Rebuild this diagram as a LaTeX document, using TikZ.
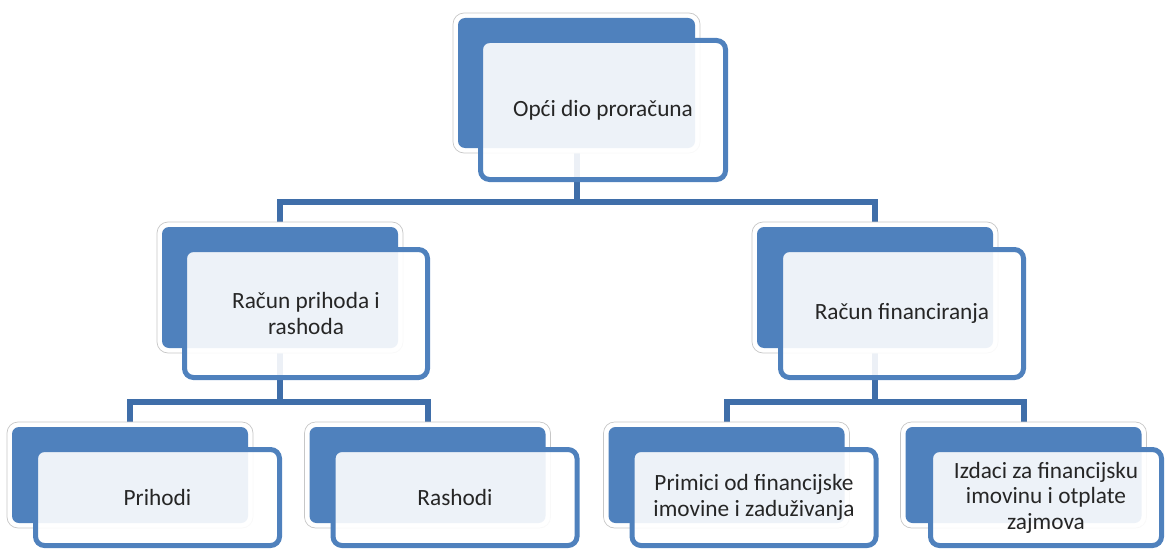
\documentclass[tikz,border=0pt]{standalone}
\usepackage{fontspec}
\setmainfont{Carlito}
\usetikzlibrary{calc}
\definecolor{boxblue}{HTML}{4F81BD}
\definecolor{connblue}{HTML}{3F6EA9}
\definecolor{txt}{HTML}{262626}
\pgfdeclarelayer{bg}
\pgfsetlayers{bg,main}
\begin{document}
\begin{tikzpicture}[x=1pt,y=-1pt,
  backbox/.style={fill=boxblue, draw=none, rounded corners=7pt, inner sep=0pt, outer sep=0pt},
  frontbox/.style={fill=white, fill opacity=0.9, text opacity=1, draw=boxblue, line width=5pt,
    rounded corners=9pt, align=center, text=txt, font=\fontsize{23.3}{25.5}\selectfont, inner sep=0pt},
  ring/.style={fill=white, draw=black!22, line width=0.7pt, rounded corners=11pt},
  conn/.style={draw=connblue, line width=6pt}]
\useasboundingbox (0,0) rectangle (1166,551);

% level 1
\node[backbox, minimum width=237pt, minimum height=130pt] (b0) at (576.5,83) {};
\node[frontbox, minimum width=245pt, minimum height=139pt] (f0) at (603,110) {Opći dio proračuna};

% level 2
\node[backbox, minimum width=236pt, minimum height=121pt] (b1) at (280,287.5) {};
\node[frontbox, minimum width=243pt, minimum height=128pt] (f1) at (306,313.5) {Račun prihoda i\\rashoda};
\node[backbox, minimum width=236pt, minimum height=121pt] (b2) at (875,287.5) {};
\node[frontbox, minimum width=243pt, minimum height=128pt] (f2) at (902,313.5) {Račun financiranja};

% level 3
\node[backbox, minimum width=236pt, minimum height=96pt] (b3) at (130,475) {};
\node[frontbox, minimum width=244pt, minimum height=96pt] (f3) at (157.5,497.5) {Prihodi};
\node[backbox, minimum width=236pt, minimum height=96pt] (b4) at (427.5,475) {};
\node[frontbox, minimum width=244pt, minimum height=96pt] (f4) at (455,497.5) {Rashodi};
\node[backbox, minimum width=236pt, minimum height=96pt] (b5) at (726.5,475) {};
\node[frontbox, minimum width=244pt, minimum height=96pt] (f5) at (754,497.5) {Primici od financijske\\imovine i zaduživanja};
\node[backbox, minimum width=236pt, minimum height=96pt] (b6) at (1023.5,475) {};
\node[frontbox, minimum width=231pt, minimum height=96pt] (f6) at (1046,497.5) {Izdaci za financijsku\\imovinu i otplate\\zajmova};

\coordinate (bus0) at (0,202);
\coordinate (bus1) at (0,401.5);

\begin{pgfonlayer}{bg}
  \draw[conn] (b0.south) -- (b0.south |- bus0) -| (b1.north);
  \draw[conn] (b0.south |- bus0) -| (b2.north);
  \draw[conn] (b1.south) -- (b1.south |- bus1) -| (b3.north);
  \draw[conn] (b1.south |- bus1) -| (b4.north);
  \draw[conn] (b2.south) -- (b2.south |- bus1) -| (b5.north);
  \draw[conn] (b2.south |- bus1) -| (b6.north);
  \foreach \b in {b0,b1,b2,b3,b4,b5,b6}{
    \draw[ring] ([shift={(-5,-5)}]\b.north west) rectangle ([shift={(5,5)}]\b.south east);
  }
\end{pgfonlayer}
\end{tikzpicture}
\end{document}
